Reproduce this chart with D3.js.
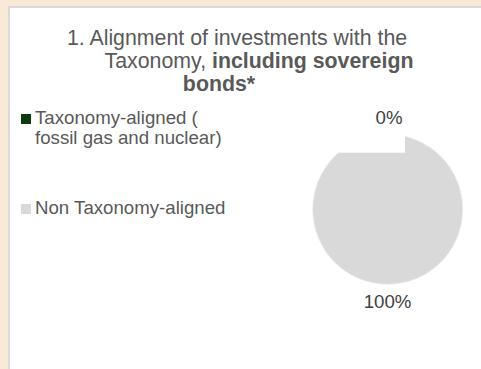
<!DOCTYPE html>
<html>
<head>
<meta charset="utf-8">
<script src="https://cdn.jsdelivr.net/npm/d3@7"></script>
<style>
  html, body { margin: 0; padding: 0; background: #F9E9D7; }
  svg { display: block; }
</style>
</head>
<body>
<svg id="chart" width="481" height="369"></svg>
<script>
// Series: share of investments by Taxonomy alignment
const categories = ["Taxonomy-aligned (\nfossil gas and nuclear)", "Non Taxonomy-aligned"];
const values = [0, 100];
const valueLabels = ["0%", "100%"];
const colors = ["#0E3B0E", "#D9D9D9"];

const svg = d3.select("#chart");
const W = 481, H = 369;
const font = "'Liberation Sans', Arial, sans-serif";

// Card background with a thin frame on the top and left
svg.append("rect").attr("x", 8).attr("y", 6).attr("width", W - 8).attr("height", H - 6)
  .attr("fill", "#D9D9D9");
svg.append("rect").attr("x", 10).attr("y", 8).attr("width", W - 10).attr("height", H - 8)
  .attr("fill", "#FFFFFF");

// Title (three wrapped lines)
const title = svg.append("g").attr("font-family", font).attr("font-size", 21.33).attr("fill", "#595959")
  .attr("text-anchor", "middle");
title.append("text").attr("x", 237).attr("y", 45).text("1. Alignment of investments with the");
const t2 = title.append("text").attr("x", 259).attr("y", 67.5);
t2.append("tspan").text("Taxonomy, ");
t2.append("tspan").attr("font-weight", "bold").text("including sovereign");
title.append("text").attr("x", 219).attr("y", 91).attr("font-weight", "bold").text("bonds*");

// Legend
const legendY = [124, 214];
const legend = svg.append("g").attr("font-family", font).attr("font-size", 18.67).attr("fill", "#595959");
categories.forEach((c, i) => {
  const g = legend.append("g");
  g.append("rect").attr("x", 21).attr("y", legendY[i] - 10).attr("width", 10).attr("height", 10)
    .attr("fill", colors[i]);
  c.split("\n").forEach((line, j) => {
    g.append("text").attr("x", 35).attr("y", legendY[i] + j * 20).text(line);
  });
});

// Pie
const cx = 387.7, cy = 209.3, r = 75;
const pie = d3.pie().sort(null).startAngle(0).endAngle(2 * Math.PI);
const arcs = pie(values);
const arc = d3.arc().innerRadius(0).outerRadius(r);
const pg = svg.append("g").attr("transform", `translate(${cx},${cy})`);
pg.selectAll("path").data(arcs).join("path")
  .attr("d", arc)
  .attr("fill", (d, i) => colors[i])
  .attr("stroke", "#EEEEEE")
  .attr("stroke-width", 0.8);

// Backdrop of the "0%" data label, laid over the pie top
svg.append("rect").attr("x", 330).attr("y", 100).attr("width", 75).attr("height", 52.7)
  .attr("fill", "#FFFFFF");

// Data labels
const labelPos = [[389, 124], [387.5, 308]];
svg.append("g").attr("font-family", font).attr("font-size", 18.67).attr("fill", "#404040")
  .attr("text-anchor", "middle")
  .selectAll("text").data(valueLabels).join("text")
  .attr("x", (d, i) => labelPos[i][0]).attr("y", (d, i) => labelPos[i][1])
  .text(d => d);
</script>
</body>
</html>
